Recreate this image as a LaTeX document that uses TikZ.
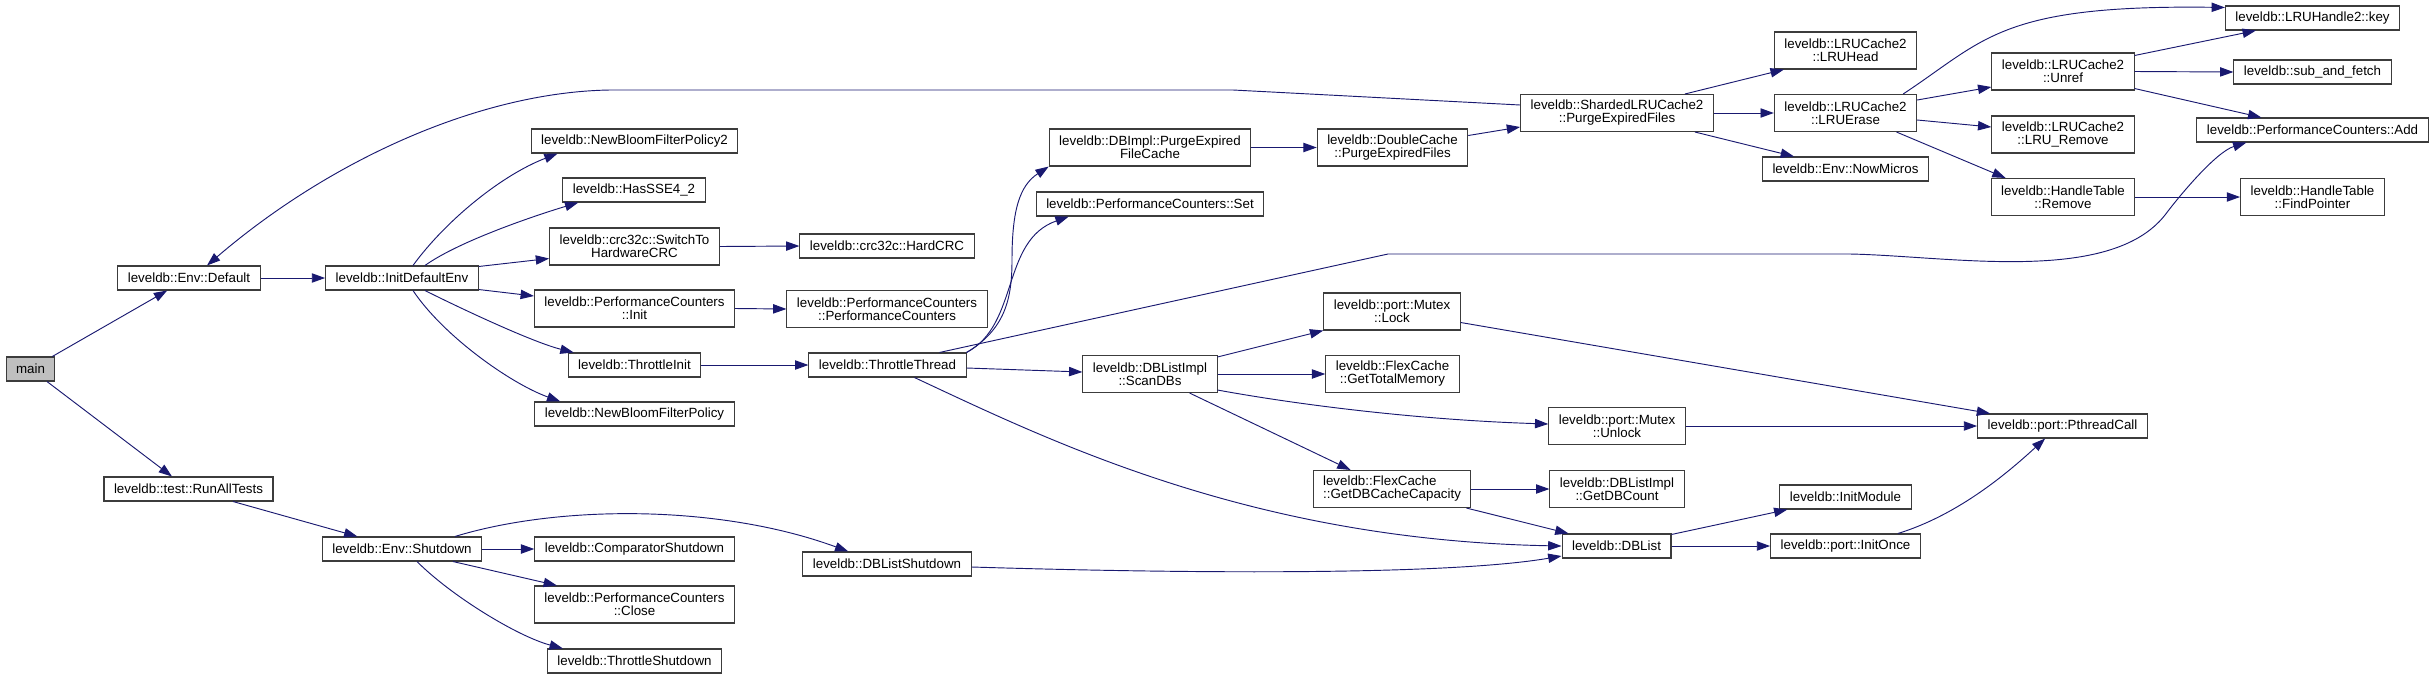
\documentclass[tikz,border=0pt]{standalone}
\usepackage{fontspec}
\setmainfont{Liberation Sans}
\usepackage{tikz}
\usetikzlibrary{arrows.meta,calc}
\definecolor{CallBlue}{HTML}{191970}
\definecolor{BoxEdge}{HTML}{3C3C3C}
\definecolor{RootGrey}{HTML}{BFBFBF}

\begin{document}
\begin{tikzpicture}[x=0.75pt,y=-0.75pt]
  \path[use as bounding box] (0,0) rectangle (2434,679);
  \tikzset{
    cgFunc/.style={
      draw=BoxEdge, fill=white, line width=.8pt,
      minimum height=18pt, inner xsep=7.5pt, inner ysep=2pt,
      align=center, font=\fontsize{10}{9.75}\selectfont, text=black
    },
    cgFuncTwo/.style={
      cgFunc, minimum height=27.75pt
    },
    cgRoot/.style={
      cgFunc, fill=RootGrey
    },
    cgCall/.style={
      -{Triangle[length=10pt,width=7pt]}, draw=CallBlue, fill=none,
      line width=.7pt
    }
  }

  \node[cgRoot] (main) at (30.5,369) {main};

  \node[cgFunc] (envdefault) at (189,278) {leveldb::Env::Default};
  \node[cgFunc] (runall) at (188.5,489) {leveldb::test::RunAllTests};

  \node[cgFunc] (initenv) at (402,278) {leveldb::InitDefaultEnv};
  \node[cgFunc] (envshutdown) at (402,549) {leveldb::Env::Shutdown};

  \node[cgFunc] (bloom2) at (634.5,141) {leveldb::NewBloomFilterPolicy2};
  \node[cgFunc] (sse) at (634,190) {leveldb::HasSSE4\_2};
  \node[cgFuncTwo] (switchcrc) at (634.5,246.5)
    {leveldb::crc32c::SwitchTo\\HardwareCRC};
  \node[cgFuncTwo] (pcinit) at (634.5,308.5)
    {leveldb::PerformanceCounters\\::Init};
  \node[cgFunc] (thrinit) at (634.5,365) {leveldb::ThrottleInit};
  \node[cgFunc] (bloom) at (634.5,414) {leveldb::NewBloomFilterPolicy};
  \node[cgFunc] (cmpshut) at (634.5,549) {leveldb::ComparatorShutdown};
  \node[cgFuncTwo] (pcclose) at (634.5,604.5)
    {leveldb::PerformanceCounters\\::Close};
  \node[cgFunc] (thrshut) at (634.5,661) {leveldb::ThrottleShutdown};

  \node[cgFunc] (hardcrc) at (887,246) {leveldb::crc32c::HardCRC};
  \node[cgFuncTwo] (pcctor) at (887,309)
    {leveldb::PerformanceCounters\\::PerformanceCounters};
  \node[cgFunc] (thrthread) at (887.5,365) {leveldb::ThrottleThread};
  \node[cgFunc] (dbshut) at (887,564) {leveldb::DBListShutdown};

  \node[cgFuncTwo] (purgefc) at (1150,147.5)
    {leveldb::DBImpl::PurgeExpired\\FileCache};
  \node[cgFunc] (pcset) at (1150,204) {leveldb::PerformanceCounters::Set};
  \node[cgFuncTwo] (scandbs) at (1150,374)
    {leveldb::DBListImpl\\::ScanDBs};

  \node[cgFuncTwo] (dcpurge) at (1392.5,147.5)
    {leveldb::DoubleCache\\::PurgeExpiredFiles};
  \node[cgFuncTwo] (mxlock) at (1392,311.5)
    {leveldb::port::Mutex\\::Lock};
  \node[cgFuncTwo] (totalmem) at (1392.5,374)
    {leveldb::FlexCache\\::GetTotalMemory};
  \node[cgFuncTwo, align=left] (dbcap) at (1392,489)
    {leveldb::FlexCache\\::GetDBCacheCapacity};

  \node[cgFuncTwo] (shpurge) at (1617,113)
    {leveldb::ShardedLRUCache2\\::PurgeExpiredFiles};
  \node[cgFuncTwo] (mxunlock) at (1617,426)
    {leveldb::port::Mutex\\::Unlock};
  \node[cgFuncTwo] (dbcount) at (1617,489)
    {leveldb::DBListImpl\\::GetDBCount};
  \node[cgFunc] (dblist) at (1616.5,546) {leveldb::DBList};

  \node[cgFuncTwo] (lruhead) at (1845.5,50.5)
    {leveldb::LRUCache2\\::LRUHead};
  \node[cgFuncTwo] (lruerase) at (1845.5,113)
    {leveldb::LRUCache2\\::LRUErase};
  \node[cgFunc] (nowmicros) at (1845.5,169) {leveldb::Env::NowMicros};
  \node[cgFunc] (initmod) at (1845.5,497) {leveldb::InitModule};
  \node[cgFunc] (initonce) at (1845.5,546) {leveldb::port::InitOnce};

  \node[cgFuncTwo] (unref) at (2063,71.5)
    {leveldb::LRUCache2\\::Unref};
  \node[cgFuncTwo] (lruremove) at (2063,134.5)
    {leveldb::LRUCache2\\::LRU\_Remove};
  \node[cgFuncTwo] (htremove) at (2063,197)
    {leveldb::HandleTable\\::Remove};
  \node[cgFunc] (pthread) at (2062.5,426) {leveldb::port::PthreadCall};

  \node[cgFunc] (key) at (2312.5,18) {leveldb::LRUHandle2::key};
  \node[cgFunc] (subfetch) at (2312.5,72) {leveldb::sub\_and\_fetch};
  \node[cgFunc] (pcadd) at (2312.5,130) {leveldb::PerformanceCounters::Add};
  \node[cgFuncTwo] (findptr) at (2312.5,197)
    {leveldb::HandleTable\\::FindPointer};

  \draw[cgCall] (main) -- (envdefault);
  \draw[cgCall] (main) -- (runall);
  \draw[cgCall] (envdefault.east) -- (initenv.west);
  \draw[cgCall] ($(shpurge.west)+(0,-8)$) -- (1233,90) -- (610,90)
    .. controls (480,92) and (330,160) .. ($(envdefault.north)+(18,0)$);

  \draw[cgCall] ($(initenv.north)+(11,0)$)
    .. controls +(32,-44) and +(-57,22) .. ($(bloom2.south west)+(27,0)$);
  \draw[cgCall] ($(initenv.north)+(23,0)$)
    .. controls +(35,-25) and +(-40,12) .. ($(sse.south west)+(16,0)$);
  \draw[cgCall] ($(initenv.north east)+(0,1)$) -- ($(switchcrc.west)+(0,12)$);
  \draw[cgCall] ($(initenv.south east)+(0,-1)$) -- ($(pcinit.west)+(0,-12.5)$);
  \draw[cgCall] ($(initenv.south)+(23,0)$)
    .. controls +(40,20) and +(-40,-10) .. ($(thrinit.north west)+(6,0)$);
  \draw[cgCall] ($(initenv.south)+(11,0)$)
    .. controls +(30,45) and +(-50,-18) .. ($(bloom.north west)+(26,0)$);

  \draw[cgCall] (switchcrc.east) -- (hardcrc.west);
  \draw[cgCall] (pcinit.east) -- (pcctor.west);
  \draw[cgCall] (thrinit.east) -- (thrthread.west);

  \draw[cgCall] (runall) -- (envshutdown);
  \draw[cgCall] (envshutdown.east) -- (cmpshut.west);
  \draw[cgCall] ($(envshutdown.south)+(51,0)$) -- ($(pcclose.north west)+(23,0)$);
  \draw[cgCall] ($(envshutdown.south)+(15,0)$)
    .. controls +(35,35) and +(-45,-12) .. ($(thrshut.north west)+(16,0)$);
  \draw[cgCall] ($(envshutdown.north)+(53,0)$)
    .. controls +(105,-32) and +(-128,-47) .. ($(dbshut.north west)+(46,0)$);
  \draw[cgCall] ($(dbshut.east)+(0,3)$)
    .. controls +(228,7) and +(-111,19) .. ($(dblist.west)+(0,10)$);

  \draw[cgCall] (thrthread.north east)
    .. controls +(38,-23) and +(0,40) .. (1012,260)
    .. controls +(0,-50) and +(-29,19) .. (purgefc.south west);
  \draw[cgCall] (thrthread.north east)
    .. controls +(53,-28) and +(-68,24) .. ($(pcset.south west)+(33,0)$);
  \draw[cgCall] ($(thrthread.north)+(52,0)$) -- (1388,254) -- (1850,254)
    .. controls (1950,256) and (2110,285) .. (2165,215)
    .. controls (2180,195) and (2216,152) .. ($(pcadd.south west)+(50,0)$);
  \draw[cgCall] ($(thrthread.east)+(0,3)$) -- ($(scandbs.west)+(0,-2)$);
  \draw[cgCall] ($(thrthread.south)+(27,0)$)
    .. controls +(135,63) and +(-311,-6) .. (dblist.west);

  \draw[cgCall] (purgefc.east) -- (dcpurge.west);
  \draw[cgCall] ($(dcpurge.east)+(0,-12)$) -- ($(shpurge.west)+(0,14)$);

  \draw[cgCall] ($(shpurge.north)+(68,0)$) -- ($(lruhead.south west)+(10,0)$);
  \draw[cgCall] (shpurge.east) -- (lruerase.west);
  \draw[cgCall] ($(shpurge.south)+(78,0)$) -- ($(nowmicros.north west)+(32,0)$);

  \draw[cgCall] ($(lruerase.north east)+(-14,0)$)
    .. controls +(82,-54) and +(-225,-3) .. ($(key.north west)+(0,2)$);
  \draw[cgCall] ($(lruerase.east)+(0,-13)$) -- ($(unref.west)+(0,15.5)$);
  \draw[cgCall] ($(lruerase.east)+(0,7)$) -- ($(lruremove.west)+(0,-7.5)$);
  \draw[cgCall] ($(lruerase.south)+(51,0)$) -- ($(htremove.north west)+(15,0)$);

  \draw[cgCall] ($(unref.north east)+(0,3)$) -- ($(key.south west)+(31,0)$);
  \draw[cgCall] (unref.east) -- (subfetch.west);
  \draw[cgCall] ($(unref.south east)+(0,-2)$) -- ($(pcadd.north west)+(65,0)$);
  \draw[cgCall] (htremove.east) -- (findptr.west);

  \draw[cgCall] ($(scandbs.north east)+(0,2)$) -- (mxlock.south west);
  \draw[cgCall] (scandbs.east) -- (totalmem.west);
  \draw[cgCall] ($(scandbs.south east)+(0,-3)$)
    .. controls +(82,15) and +(-128,-4) .. ($(mxunlock.west)+(0,-2)$);
  \draw[cgCall] ($(scandbs.south east)+(-28,0)$) -- ($(dbcap.north west)+(38,0)$);

  \draw[cgCall] ($(mxlock.east)+(0,11)$) -- ($(pthread.north west)+(13,0)$);
  \draw[cgCall] (mxunlock.east) -- (pthread.west);
  \draw[cgCall] (dbcap.east) -- (dbcount.west);
  \draw[cgCall] ($(dbcap.south east)+(-5,0)$) -- ($(dblist.north west)+(7,0)$);

  \draw[cgCall] ($(dblist.north east)+(0,1)$) -- ($(initmod.south west)+(8,0)$);
  \draw[cgCall] (dblist.east) -- (initonce.west);
  \draw[cgCall] ($(initonce.north east)+(-23,0)$)
    .. controls +(62,-19) and +(-35,32) .. ($(pthread.south west)+(68,0)$);
\end{tikzpicture}
\end{document}
